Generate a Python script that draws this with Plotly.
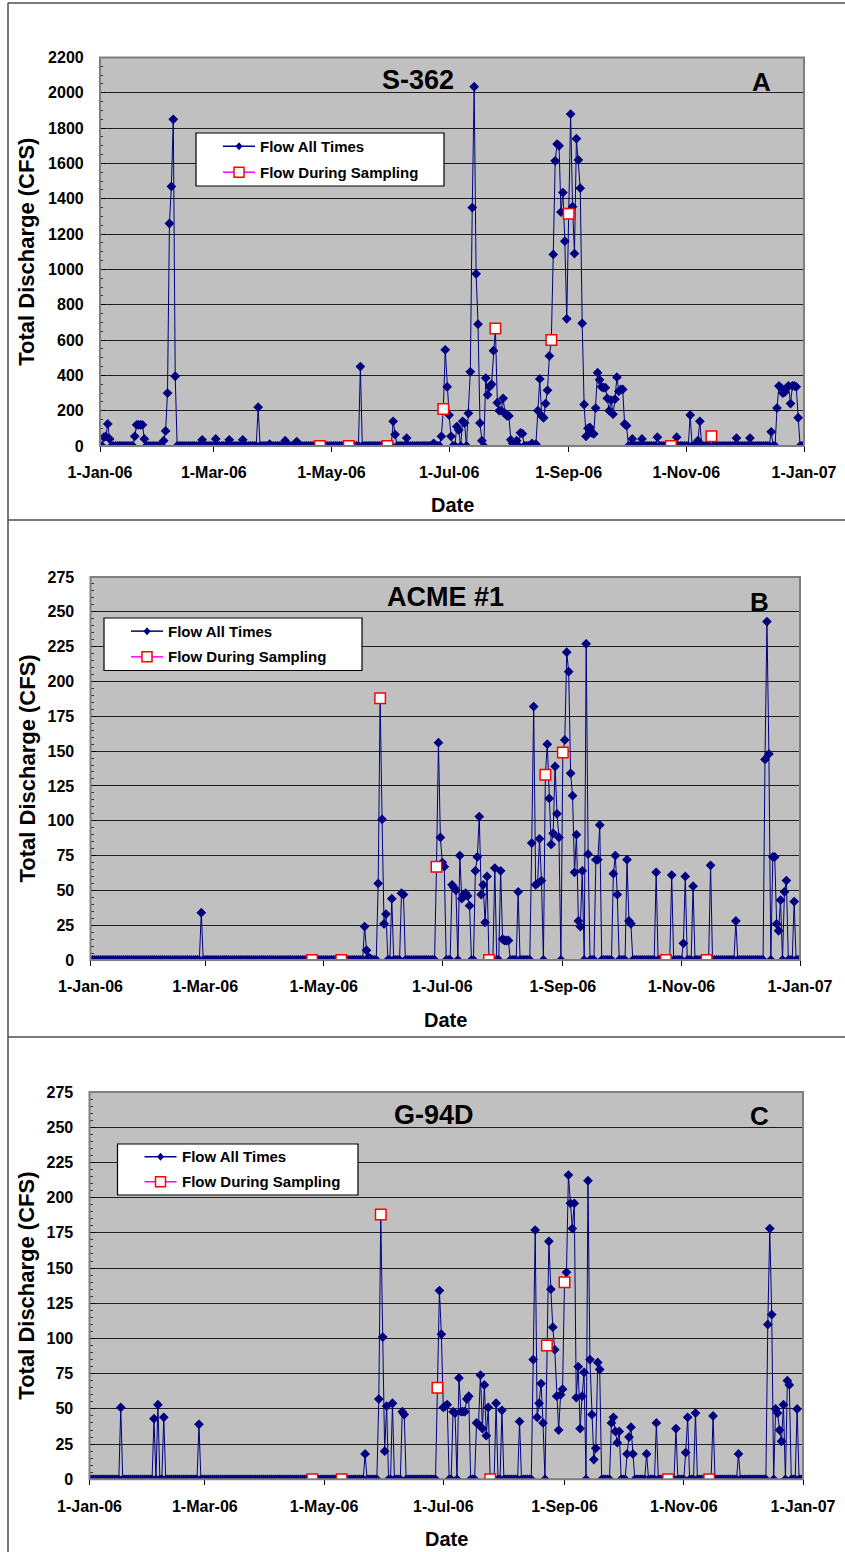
import pandas as pd
import plotly.graph_objects as go

W, H = 845, 1552

# ---------------------------------------------------------------- data
# Daily discharge record for 2006; event days are offsets from 1 Jan 2006
# (0 = 1 Jan). Days not listed had no flow.
START = "2006-01-01"
N_DAYS = 365

tick_dates = ["2006-01-01", "2006-03-01", "2006-05-01", "2006-07-01",
              "2006-09-01", "2006-11-01", "2007-01-01"]
tick_labels = ["1-Jan-06", "1-Mar-06", "1-May-06", "1-Jul-06",
               "1-Sep-06", "1-Nov-06", "1-Jan-07"]

sampling_days = [114, 129, 149, 178, 205, 234, 243, 296, 317]

# S-362
s362_days = [2, 3, 4, 5, 18, 19, 20, 21, 22, 23, 33, 34, 35, 36, 37, 38, 39,
             53, 60, 67, 74, 82, 88, 96, 102, 135, 152, 153, 159, 173,
             177, 178, 179, 180, 181, 182, 185, 186, 188, 189, 191, 192, 193,
             194, 195, 196, 197, 198, 200, 201, 202, 203, 204, 205, 206, 207,
             208, 209, 210, 211, 212, 213, 214, 216, 218, 219, 224, 226,
             227, 228, 229, 230, 231, 232, 233, 234, 235, 236, 237, 238, 239,
             240, 241, 242, 243, 244, 245, 246, 247, 248, 249, 250, 251, 252,
             253, 254, 255, 256, 257, 258, 259, 260, 261, 262, 263, 264, 265,
             266, 267, 268, 269, 270, 271, 272, 273, 276, 281, 289, 299, 306,
             310, 311, 317, 330, 337, 348, 351, 352, 353, 354, 355, 356, 357,
             358, 359, 360, 361, 362]
s362_flow = [50, 55, 125, 40, 55, 120, 120, 120, 120, 40, 30, 85, 300, 1260,
             1470, 1850, 395, 35, 40, 35, 35, 220, 10, 30, 25, 450, 140, 65,
             45, 15, 55, 210, 545, 335, 175, 55, 110, 90, 140, 130, 185, 420,
             1350, 2035, 975, 690, 130, 30, 385, 290, 335, 350, 540, 665, 245,
             200, 200, 270, 185, 170, 170, 35, 15, 30, 75, 70, 15, 10,
             200, 380, 170, 160, 240, 315, 510, 600, 1085, 1615, 1710, 1700,
             1325, 1435, 1160, 720, 1315, 1880, 1355, 1090, 1740, 1620, 1460,
             695, 235, 55, 100, 105, 75, 68, 215, 415, 375, 335, 330, 330,
             270, 200, 260, 180, 265, 390, 310, 320, 320, 125, 115, 40, 40,
             50, 50, 175, 30, 140, 55, 45, 45, 80, 215, 340, 330, 300, 305,
             330, 340, 240, 340, 340, 335, 160]
s362_sampling = [0, 0, 0, 210, 665, 600, 1315, 0, 55]

# ACME #1
acme_days = [57, 141, 142, 143, 144, 148, 149, 150, 151, 152, 155, 160, 161,
             178, 179, 180, 181, 182, 186, 187, 188, 190, 191, 192, 193, 194,
             195, 198, 199, 200, 201, 202, 203, 204, 208, 211, 212, 213, 214,
             215, 220, 227, 228, 229, 230, 231, 232, 234, 235, 236, 237, 238,
             239, 240, 241, 243, 244, 245, 246, 247, 248, 249, 250, 251, 252,
             253, 255, 256, 260, 261, 262, 269, 270, 271, 276, 277, 278, 291,
             299, 305, 306, 310, 319, 332, 347, 348, 349, 351, 352, 353, 354,
             355, 357, 358, 362]
acme_flow = [34, 24, 7, 2, 1, 55, 188, 101, 26, 33, 44, 48, 47,
             67, 156, 88, 70, 67, 54, 52, 50, 75, 44, 47, 48, 46,
             39, 64, 74, 103, 47, 54, 27, 60, 66, 64, 15, 14, 14,
             14, 49, 84, 182, 54, 55, 87, 57, 133, 155, 116, 83, 91,
             139, 105, 88, 149, 158, 221, 207, 134, 118, 63, 90, 28, 24,
             64, 227, 76, 72, 72, 97, 62, 75, 47, 72, 28, 26, 63,
             61, 12, 60, 53, 68, 28, 144, 243, 148, 74, 74, 26, 21,
             43, 49, 57, 42]
acme_sampling = [0, 0, 188, 67, 0, 133, 149, 0, 0]

# G-94D
g94d_days = [16, 33, 35, 38, 56, 141, 148, 149, 150, 151, 152, 155, 160, 161,
             178, 179, 180, 181, 182, 183, 186, 187, 189, 190, 191, 192, 193,
             194, 198, 199, 200, 201, 202, 203, 204, 208, 211, 220, 227, 228,
             229, 230, 231, 232, 234, 235, 236, 237, 238, 239, 240, 241, 242,
             243, 244, 245, 246, 247, 248, 249, 250, 251, 252, 253, 255, 256,
             257, 258, 259, 260, 261, 267, 268, 269, 270, 271, 275, 276, 277,
             278, 285, 290, 300, 305, 306, 310, 319, 332, 347, 348, 349, 351,
             352, 353, 354, 355, 357, 358, 362]
g94d_flow = [51, 43, 53, 44, 39, 18, 57, 188, 101, 20, 52, 54, 48, 46,
             65, 134, 103, 51, 52, 53, 48, 47, 72, 48, 48, 48, 57,
             59, 40, 39, 74, 36, 67, 31, 51, 54, 49, 41, 85, 177,
             44, 54, 68, 40, 95, 169, 135, 108, 92, 59, 35, 60, 64,
             140, 147, 216, 196, 178, 196, 58, 80, 36, 59, 76, 212, 85,
             46, 14, 22, 83, 78, 40, 44, 34, 26, 34, 18, 30, 37,
             18, 18, 40, 36, 19, 44, 47, 45, 18, 110, 178, 117, 50,
             47, 35, 27, 53, 70, 67, 50]
g94d_sampling = [0, 0, 188, 65, 0, 95, 140, 0, 0]

stations = [
    dict(name="S-362", letter="A", days=s362_days, flow=s362_flow,
         sampling=s362_sampling, ymax=2200, dtick=200, minor=50),
    dict(name="ACME #1", letter="B", days=acme_days, flow=acme_flow,
         sampling=acme_sampling, ymax=275, dtick=25, minor=5),
    dict(name="G-94D", letter="C", days=g94d_days, flow=g94d_flow,
         sampling=g94d_sampling, ymax=275, dtick=25, minor=5),
]

# ---------------------------------------------------------------- layout (pixels)
panels = [
    dict(plot=(100, 804, 57.5, 446), title_xy=(418, 80), letter_xy=(761, 82),
         ytitle_x=27, date_y=505, legend=(196, 444, 133, 186)),
    dict(plot=(90.5, 800, 577, 960), title_xy=(445, 597), letter_xy=(759, 602),
         ytitle_x=27, date_y=1020, legend=(104, 362, 618, 670.5)),
    dict(plot=(89.5, 803, 1092, 1479.3), title_xy=(434, 1115), letter_xy=(759, 1116),
         ytitle_x=27, date_y=1539, legend=(117.5, 358, 1144, 1195)),
]

FONT = "Liberation Sans, Arial, sans-serif"
NAVY = "#000080"


def px(x):
    return x / W


def py(y):
    return 1 - y / H


dates = pd.date_range(START, periods=N_DAYS, freq="D")
sample_dates = [dates[d] for d in sampling_days]

fig = go.Figure()
shapes = []
annotations = []

for i, (st, pn) in enumerate(zip(stations, panels)):
    n = "" if i == 0 else str(i + 1)
    xa, ya = "x" + n, "y" + n

    daily = [0.0] * N_DAYS
    for d, v in zip(st["days"], st["flow"]):
        daily[d] = v

    fig.add_trace(go.Scatter(
        x=dates, y=daily, xaxis=xa, yaxis=ya, mode="lines+markers",
        name="Flow All Times", showlegend=False,
        line=dict(color=NAVY, width=1),
        marker=dict(symbol="diamond", size=7.5, color=NAVY, line=dict(width=0)),
    ))
    fig.add_trace(go.Scatter(
        x=sample_dates, y=st["sampling"], xaxis=xa, yaxis=ya, mode="markers",
        name="Flow During Sampling", showlegend=False,
        marker=dict(symbol="square", size=10.5, color="white",
                    line=dict(color="#FF0000", width=1.5)),
    ))

    x0, x1, y0, y1 = pn["plot"]
    fig.update_layout(**{
        "xaxis" + n: dict(
            domain=[px(x0), px(x1)], anchor=ya, type="date", automargin=False,
            range=["2006-01-01", "2007-01-01"],
            tickvals=tick_dates, ticktext=tick_labels,
            ticks="outside", ticklen=5, tickcolor="black", tickwidth=1,
            ticklabelstandoff=7,
            tickfont=dict(family=FONT, size=16, color="black", weight="bold"),
            showgrid=False, zeroline=False,
            showline=True, linecolor="black", linewidth=1.2,
        ),
        "yaxis" + n: dict(
            domain=[py(y1), py(y0)], anchor=xa, automargin=False,
            range=[0, st["ymax"]], dtick=st["dtick"], tick0=0,
            ticks="inside", ticklen=5, tickcolor="black",
            ticklabelstandoff=12,
            tickfont=dict(family=FONT, size=16, color="black", weight="bold"),
            showgrid=True, gridcolor="#1e1e1e", gridwidth=1,
            minor=dict(dtick=st["minor"], ticks="inside", ticklen=3,
                       tickcolor="#333333", showgrid=False),
            zeroline=False, showline=True, linecolor="black", linewidth=1.2,
        ),
    })

    # plot-area frame
    shapes.append(dict(type="rect", xref="paper", yref="paper",
                       x0=px(x0), x1=px(x1), y0=py(y1), y1=py(y0),
                       line=dict(color="#7f7f7f", width=2), layer="above",
                       fillcolor="rgba(0,0,0,0)"))

    # panel title and letter
    tx, ty = pn["title_xy"]
    annotations.append(dict(text=st["name"], x=px(tx), y=py(ty), xref="paper",
                            yref="paper", showarrow=False, xanchor="center",
                            yanchor="middle",
                            font=dict(family=FONT, size=27, color="black",
                                      weight="bold")))
    lx, ly = pn["letter_xy"]
    annotations.append(dict(text=st["letter"], x=px(lx), y=py(ly), xref="paper",
                            yref="paper", showarrow=False, xanchor="center",
                            yanchor="middle",
                            font=dict(family=FONT, size=26, color="black",
                                      weight="bold")))
    # axis titles
    annotations.append(dict(text="Total Discharge (CFS)", x=px(pn["ytitle_x"]),
                            y=py((y0 + y1) / 2), xref="paper", yref="paper",
                            showarrow=False, textangle=-90, xanchor="center",
                            yanchor="middle",
                            font=dict(family=FONT, size=22, color="black",
                                      weight="bold")))
    annotations.append(dict(text="Date", x=px((x0 + x1) / 2), y=py(pn["date_y"]),
                            xref="paper", yref="paper", showarrow=False,
                            xanchor="center", yanchor="middle",
                            font=dict(family=FONT, size=20, color="black",
                                      weight="bold")))

    # legend box
    bx0, bx1, by0, by1 = pn["legend"]
    shapes.append(dict(type="rect", xref="paper", yref="paper",
                       x0=px(bx0), x1=px(bx1), y0=py(by1), y1=py(by0),
                       line=dict(color="black", width=1.2), fillcolor="white",
                       layer="above"))
    row1 = by0 + (by1 - by0) * 0.25
    row2 = by0 + (by1 - by0) * 0.74
    sx0 = bx0 + 27
    sx1 = sx0 + 32
    sxc = (sx0 + sx1) / 2
    shapes.append(dict(type="line", xref="paper", yref="paper",
                       x0=px(sx0), x1=px(sx1), y0=py(row1), y1=py(row1),
                       line=dict(color=NAVY, width=1.5), layer="above"))
    shapes.append(dict(type="path", xref="paper", yref="paper",
                       path="M {a},{b} L {c},{d} L {a},{e} L {f},{d} Z".format(
                           a=px(sxc), b=py(row1 - 4), c=px(sxc + 3.5),
                           d=py(row1), e=py(row1 + 4), f=px(sxc - 3.5)),
                       line=dict(color=NAVY, width=0), fillcolor=NAVY,
                       layer="above"))
    shapes.append(dict(type="line", xref="paper", yref="paper",
                       x0=px(sx0), x1=px(sx1), y0=py(row2), y1=py(row2),
                       line=dict(color="#FF00FF", width=1.5), layer="above"))
    shapes.append(dict(type="rect", xref="paper", yref="paper",
                       x0=px(sxc - 5), x1=px(sxc + 5), y0=py(row2 + 5),
                       y1=py(row2 - 5), line=dict(color="#FF0000", width=1.5),
                       fillcolor="white", layer="above"))
    for label, ry in (("Flow All Times", row1), ("Flow During Sampling", row2)):
        annotations.append(dict(text=label, x=px(sx1 + 3), y=py(ry),
                                xref="paper", yref="paper", showarrow=False,
                                xanchor="left", yanchor="middle",
                                font=dict(family=FONT, size=15, color="black",
                                          weight="bold")))

# outer frame and panel dividers
for (ax0, ay0, ax1, ay1) in [(8, 3, 845, 3), (8, 3, 8, 1552),
                             (8, 520, 845, 520), (8, 1037, 845, 1037)]:
    shapes.append(dict(type="line", xref="paper", yref="paper",
                       x0=px(ax0), y0=py(ay0), x1=px(ax1), y1=py(ay1),
                       line=dict(color="#4d4d4d", width=1.5)))

fig.update_layout(
    width=W, height=H, margin=dict(l=0, r=0, t=0, b=0, autoexpand=False),
    paper_bgcolor="white", plot_bgcolor="#C0C0C0",
    showlegend=False, shapes=shapes, annotations=annotations,
    font=dict(family=FONT, color="black"),
)

fig.write_html("out.html")
